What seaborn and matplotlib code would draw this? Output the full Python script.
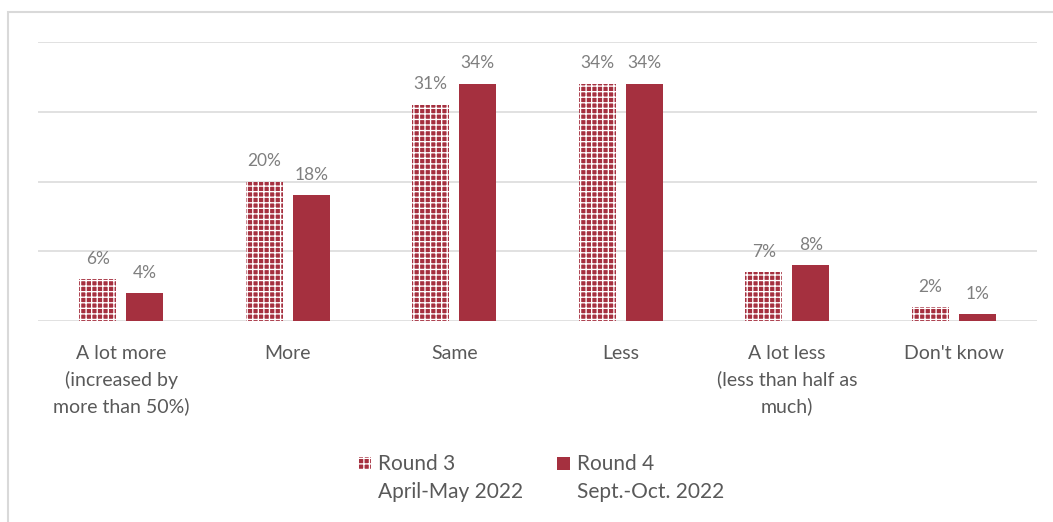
import matplotlib
matplotlib.use("Agg")
import matplotlib.pyplot as plt
import matplotlib.patches as mpatches
import seaborn as sns
import pandas as pd

categories = [
    "A lot more\n(increased by\nmore than 50%)",
    "More",
    "Same",
    "Less",
    "A lot less\n(less than half as\nmuch)",
    "Don't know",
]
round3_label = "Round 3\nApril-May 2022"
round4_label = "Round 4\nSept.-Oct. 2022"
round3_values = [6, 20, 31, 34, 7, 2]
round4_values = [4, 18, 34, 34, 8, 1]
y_ticks = [0, 10, 20, 30, 40]

RED = "#A5303F"
GRID = "#D9D9D9"
TEXT = "#595959"
LABEL = "#7F7F7F"
HATCH = "+++"

df = pd.DataFrame({
    "category": categories * 2,
    "value": round3_values + round4_values,
    "round": [round3_label] * len(categories) + [round4_label] * len(categories),
})

sns.set_theme(style="white")
plt.rcParams["font.family"] = ["Lato", "DejaVu Sans"]
plt.rcParams["hatch.linewidth"] = 0.95

W, H = 1053, 522
fig = plt.figure(figsize=(W / 100, H / 100), dpi=100)
ax = fig.add_axes([38 / W, 1 - 321 / H, 999 / W, 279 / H])

sns.barplot(
    data=df, x="category", y="value", hue="round",
    palette=[RED, RED], width=0.564, gap=0.213,
    saturation=1, ax=ax, legend=False,
)

# Round 3 bars carry a white lattice pattern
n = len(categories)
for bar in ax.patches[:n]:
    bar.set_hatch(HATCH)
    bar.set_edgecolor("white")
    bar.set_linewidth(0)
for bar in ax.patches[n:2 * n]:
    bar.set_linewidth(0)

for cont in ax.containers:
    ax.bar_label(cont, fmt="%d%%", padding=9, color=LABEL, fontsize=12.5)

ax.set_ylim(0, 40)
ax.set_xlim(-0.5, n - 0.5)
ax.set_yticks(y_ticks)
ax.set_yticklabels([])
ax.tick_params(axis="y", length=0)
ax.tick_params(axis="x", length=0, pad=17, labelsize=14, labelcolor=TEXT)
for t in ax.get_xticklabels():
    t.set_linespacing(1.6)
ax.yaxis.grid(True, color=GRID, linewidth=1.1)
ax.set_axisbelow(True)
for s in ax.spines.values():
    s.set_visible(False)
ax.set_xlabel("")
ax.set_ylabel("")

# Legend below the plot: square key next to a two-line label
legend_items = [(round3_label, HATCH, 358), (round4_label, None, 557)]
for label, hatch, x0 in legend_items:
    fig.patches.append(mpatches.Rectangle(
        (x0 / W, 1 - 470 / H), 13 / W, 13 / H, transform=fig.transFigure,
        facecolor=RED, edgecolor="white", hatch=hatch, linewidth=0,
    ))
    fig.text((x0 + 20) / W, 1 - 454 / H, label, transform=fig.transFigure,
             ha="left", va="top", fontsize=15, color=TEXT,
             linespacing=1.5)

# Outer chart-area border
fig.patches.append(mpatches.Rectangle(
    (8 / W, -0.05), 1.2, 1 - 12 / H + 0.05,
    transform=fig.transFigure, fill=False, edgecolor=GRID, linewidth=1.5,
))

fig.savefig("out.png", dpi=100, facecolor="white")
